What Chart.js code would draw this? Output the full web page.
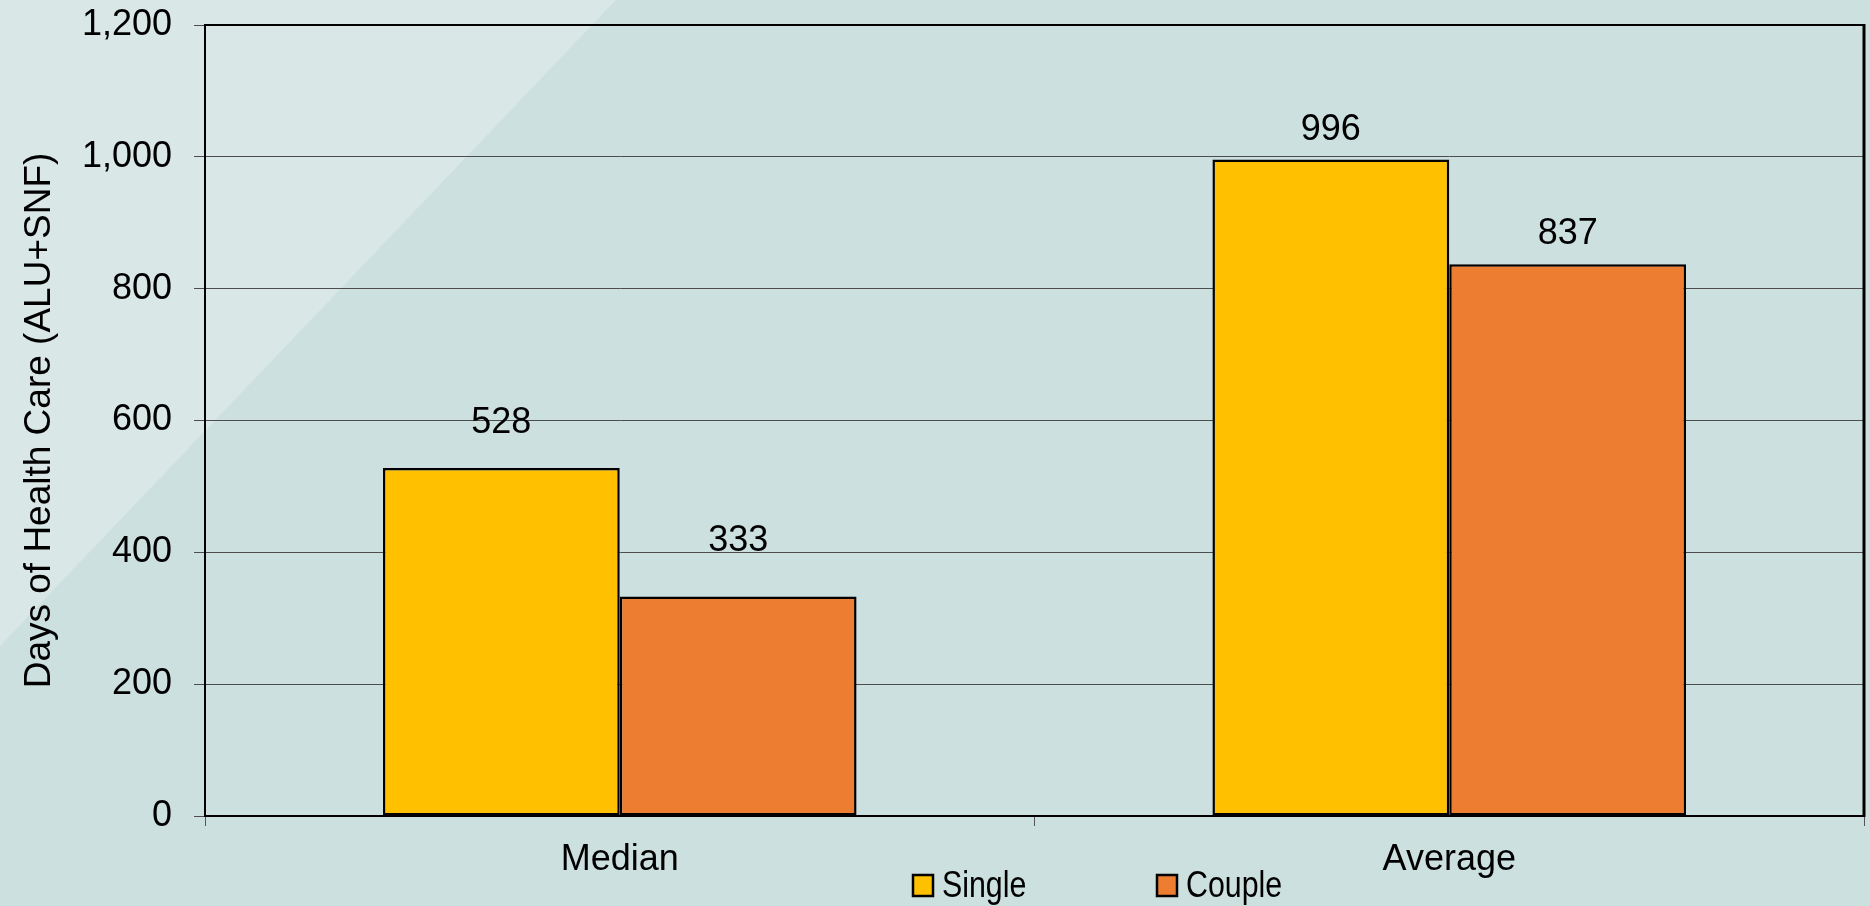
<!DOCTYPE html>
<html>
<head>
<meta charset="utf-8">
<script src="https://cdn.jsdelivr.net/npm/chart.js@4/dist/chart.umd.min.js"></script>
<style>
html,body{margin:0;padding:0;background:#CCE0DF;overflow:hidden}
canvas{display:block}
</style>
</head>
<body>
<canvas id="c" width="1870" height="906"></canvas>
<script>
// ---- data ----
const categories = ['Median', 'Average'];
const seriesNames = ['Single', 'Couple'];
const singleValues = [528, 996];
const coupleValues = [333, 837];
const yTickValues = [0, 200, 400, 600, 800, 1000, 1200];
const yAxisTitle = 'Days of Health Care (ALU+SNF)';

// ---- styles ----
const FONT = '"Liberation Sans", Arial, Helvetica, sans-serif';
const NARROW = '"Liberation Sans Narrow", "Liberation Sans", Arial, sans-serif';
const seriesColors = ['#FFC000', '#ED7D31'];

const bgPlugin = {
  id: 'bg',
  beforeDraw(chart) {
    const ctx = chart.ctx, w = chart.width, h = chart.height;
    ctx.save();
    ctx.fillStyle = '#CCE0DF';
    ctx.fillRect(0, 0, w, h);
    ctx.fillStyle = '#D9E7E6';
    ctx.beginPath();
    ctx.moveTo(0, 0);
    ctx.lineTo(616, 0);
    ctx.lineTo(0, 646);
    ctx.closePath();
    ctx.fill();
    ctx.restore();
  }
};

const framePlugin = {
  id: 'frame',
  afterDatasetsDraw(chart) {
    const {ctx, chartArea: a} = chart;
    ctx.save();
    ctx.strokeStyle = '#000';
    ctx.lineWidth = 2;
    ctx.beginPath();
    ctx.moveTo(a.left, a.top);
    ctx.lineTo(a.right, a.top);
    ctx.stroke();
    ctx.lineWidth = 3;
    ctx.beginPath();
    ctx.moveTo(a.right, a.top - 1);
    ctx.lineTo(a.right, a.bottom + 1);
    ctx.stroke();
    ctx.restore();
  }
};

const valueLabelPlugin = {
  id: 'valueLabels',
  afterDatasetsDraw(chart, args, opts) {
    const ctx = chart.ctx;
    ctx.save();
    ctx.font = '36px ' + FONT;
    ctx.fillStyle = '#000';
    ctx.textAlign = 'center';
    ctx.textBaseline = 'middle';
    chart.data.datasets.forEach((ds, di) => {
      const meta = chart.getDatasetMeta(di);
      meta.data.forEach((bar, i) => {
        const gap = opts.gaps[di][i];
        ctx.fillText(String(ds.data[i]), bar.x, bar.y - gap);
      });
    });
    ctx.restore();
  }
};

function narrowAvailable(ctx) {
  ctx.save();
  ctx.font = '40px "Liberation Sans Narrow", monospace';
  const a = ctx.measureText('Single Couple').width;
  ctx.font = '40px monospace';
  const b = ctx.measureText('Single Couple').width;
  ctx.restore();
  return Math.abs(a - b) > 1;
}

const legendPlugin = {
  id: 'customLegend',
  afterDraw(chart, args, opts) {
    const ctx = chart.ctx;
    const sx = narrowAvailable(ctx) ? 1 : 0.82;
    ctx.save();
    chart.data.datasets.forEach((ds, i) => {
      const x = opts.startX + i * opts.spacing;
      const y = opts.baseline;
      ctx.fillStyle = ds.backgroundColor;
      ctx.fillRect(x, y - 22, 20, 21);
      ctx.strokeStyle = '#000';
      ctx.lineWidth = 2.5;
      ctx.strokeRect(x, y - 22, 20, 21);
      ctx.save();
      ctx.translate(x + 29, y);
      ctx.scale(sx, 1);
      ctx.font = '37px ' + NARROW;
      ctx.fillStyle = '#000';
      ctx.textAlign = 'left';
      ctx.textBaseline = 'alphabetic';
      ctx.fillText(ds.label, 0, 0);
      ctx.restore();
    });
    ctx.restore();
  }
};

new Chart(document.getElementById('c'), {
  type: 'bar',
  data: {
    labels: categories,
    datasets: [
      {label: seriesNames[0], data: singleValues, backgroundColor: seriesColors[0],
       borderColor: '#000', borderWidth: 2.5, borderSkipped: false},
      {label: seriesNames[1], data: coupleValues, backgroundColor: seriesColors[1],
       borderColor: '#000', borderWidth: 2.5, borderSkipped: false}
    ]
  },
  options: {
    responsive: false,
    animation: false,
    devicePixelRatio: 1,
    layout: {padding: {top: 25, right: 6, bottom: 0, left: 0}},
    datasets: {bar: {categoryPercentage: 0.571, barPercentage: 1.0}},
    plugins: {
      legend: {display: false},
      tooltip: {enabled: false},
      valueLabels: {gaps: [[45, 29], [55, 30]]},
      customLegend: {startX: 913, spacing: 244, baseline: 897}
    },
    scales: {
      x: {
        offset: true,
        grid: {display: true, offset: true, drawOnChartArea: false, drawTicks: true,
               tickLength: 10, color: '#555', lineWidth: 1},
        border: {display: true, color: '#000', width: 2},
        ticks: {color: '#000', font: {family: FONT, size: 36}, padding: 12},
        afterFit(scale) { scale.height = 90; scale.paddingLeft = 0; scale.paddingRight = 0; }
      },
      y: {
        min: 0, max: 1200,
        afterBuildTicks(scale) { scale.ticks = yTickValues.map(v => ({value: v})); },
        grid: {color: '#4d4d4d', lineWidth: 1, drawTicks: true, tickLength: 11},
        border: {display: true, color: '#000', width: 2},
        ticks: {color: '#000', font: {family: FONT, size: 36}, padding: 22,
                callback: v => Number(v).toLocaleString('en-US')},
        title: {display: true, text: yAxisTitle, color: '#000',
                font: {family: FONT, size: 37}, padding: {top: 18, bottom: 0}},
        afterFit(scale) { scale.width = 205; scale.paddingTop = 0; scale.paddingBottom = 0; }
      }
    }
  },
  plugins: [bgPlugin, framePlugin, valueLabelPlugin, legendPlugin]
});
</script>
</body>
</html>
